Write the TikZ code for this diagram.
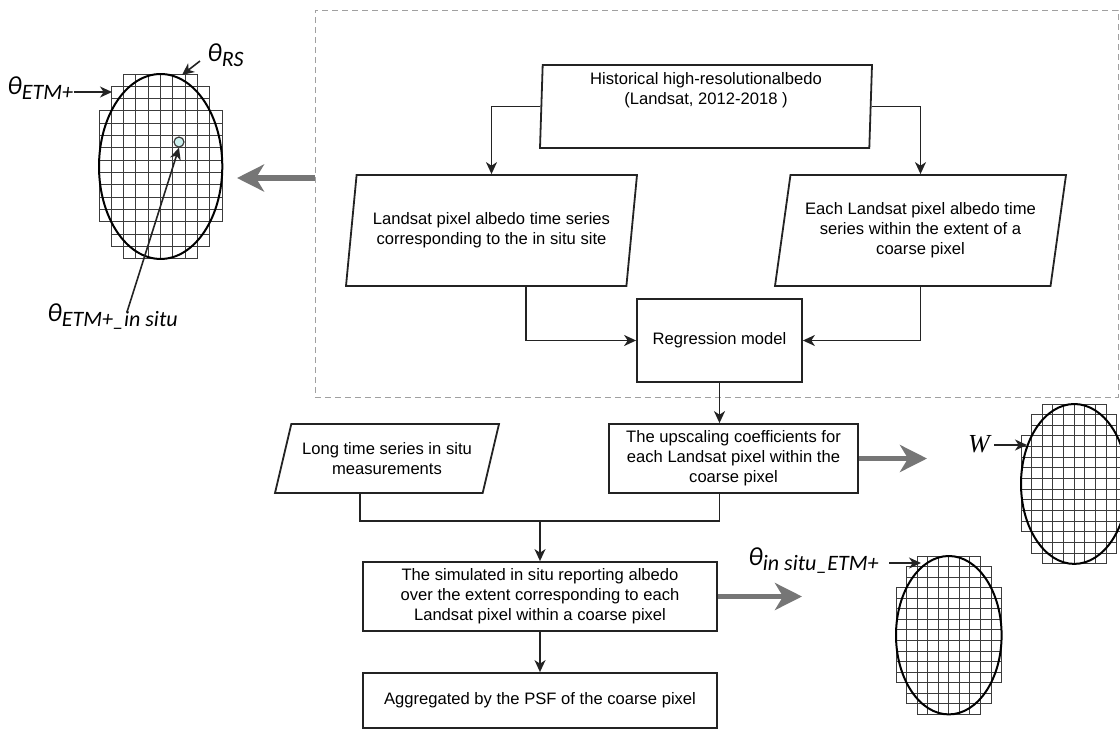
\documentclass[tikz,border=0pt]{standalone}
\usepackage{fontspec}
\setmainfont{Liberation Sans}
\newfontfamily\calfont{Carlito}
\newfontfamily\serfont{Liberation Serif}
\usetikzlibrary{shapes.geometric}
\usetikzlibrary{arrows.meta}
\usetikzlibrary{positioning}

\definecolor{framegray}{RGB}{160,160,160}
\definecolor{bigarrowgray}{RGB}{118,118,118}
\definecolor{gridgray}{RGB}{60,60,60}
\definecolor{linegray}{RGB}{35,35,35}
\definecolor{sitecyan}{RGB}{205,240,238}

\tikzset{
  boxtext/.style={font=\fontsize{8.3pt}{10pt}\selectfont, align=center},
  procbox/.style={draw=linegray, line width=0.9pt, rectangle, inner sep=2pt, boxtext},
  databox/.style={procbox, trapezium, trapezium stretches body},
  flow/.style={draw=linegray, line width=0.8pt, -{Stealth[length=6pt, width=5.5pt, inset=1.8pt]}},
  plainline/.style={draw=linegray, line width=0.8pt},
  bigarrow/.style={draw=bigarrowgray, line width=2.6pt, -{Stealth[length=13.5pt, width=13.5pt, inset=4pt]}},
  gridline/.style={draw=gridgray, line width=0.5pt},
  pixellipse/.style={draw=black, line width=1pt},
  thetalabel/.style={inner sep=0pt},
}

\newcommand{\thlab}[1]{{\calfont\itshape\fontsize{13pt}{15pt}\selectfont θ\raisebox{-2.5pt}{\fontsize{11pt}{12pt}\selectfont #1}}}

% one pixel grid under its ellipse: #1 x, #2 y (px), #3 cell size
\newcommand{\pixgrid}[3]{%
  \begin{scope}[shift={(#1,#2)}, x=#3, y=-#3]
    \foreach \r/\a/\b in {1/3/8, 2/2/9, 3/2/9, 4/1/10, 5/1/10, 6/1/10, 7/1/10, 8/1/10,
                          9/1/10, 10/1/10, 11/1/10, 12/1/10, 13/2/9, 14/2/9, 15/3/8}
      \foreach \c in {\a,...,\b}
        \draw[gridline] (\c-1,\r-1) rectangle (\c,\r);
    \draw[pixellipse] (5,7.5) ellipse [x radius=5, y radius=7.5];
  \end{scope}}

\begin{document}
\begin{tikzpicture}[x=0.5pt, y=-0.5pt]

  \useasboundingbox (0,0) rectangle (1120,729);
  \clip (0,0) rectangle (1120,729);

  % dashed frame round the regression part
  \node[draw=framegray, dashed, dash pattern=on 3pt off 2pt, line width=0.5pt,
        minimum width=401.5pt, minimum height=193.5pt, inner sep=0pt] (frame) at (716.5,203.5) {};

  % flowchart
  \node[databox, minimum width=166pt, minimum height=41.5pt,
        trapezium left angle=71.4, trapezium right angle=108.6,
        label={[boxtext, yshift=8pt]center:Historical high-resolutionalbedo\\(Landsat, 2012-2018 )}]
        (hist) at (706,106.5) {};

  \node[databox, minimum width=145.5pt, minimum height=55.5pt,
        trapezium left angle=76.3, trapezium right angle=103.7]
        (landsat) at (491.5,230.5) {Landsat pixel albedo time series\\corresponding to the in situ site};

  \node[databox, minimum width=145.5pt, minimum height=55.5pt,
        trapezium left angle=76.3, trapezium right angle=103.7]
        (eachpx) at (920.5,230.5) {Each Landsat pixel albedo time\\series within the extent of a\\coarse pixel};

  \node[procbox, minimum width=82.5pt, minimum height=41.5pt] (regr) at (719.5,340.5) {Regression model};

  \node[procbox, minimum width=124.5pt, minimum height=34.5pt] (coef) at (733.5,458.5)
        {The upscaling coefficients for\\each Landsat pixel within the\\coarse pixel};

  \node[databox, minimum width=112pt, minimum height=34.5pt,
        trapezium left angle=67.9, trapezium right angle=112.1]
        (longts) at (387,458.5) {Long time series in situ\\measurements};

  \node[procbox, minimum width=177pt, minimum height=34.5pt] (simu) at (540,596.5)
        {The simulated in situ reporting albedo\\over the extent corresponding to each\\Landsat pixel within a coarse pixel};

  \node[procbox, minimum width=177pt, minimum height=27.5pt] (aggr) at (540,700.5)
        {Aggregated by the PSF of the coarse pixel};

  % connectors
  \draw[flow] (hist.west) -| (landsat.center |- landsat.north);
  \draw[flow] (hist.east) -| (eachpx.center |- eachpx.north);
  \draw[flow] ([xshift=17.25pt]landsat.center |- landsat.south) |- (regr.west);
  \draw[flow] (eachpx.center |- eachpx.south) |- (regr.east);
  \draw[flow] (regr.south) -- (regr.south |- coef.north);

  \coordinate (merge) at (540,521);
  \draw[plainline] ([xshift=-13.5pt]longts.center |- longts.south) |- (merge) -| (regr.south |- coef.south);
  \draw[flow] (merge) -- (simu.north);
  \draw[flow] (simu.south) -- (aggr.north);

  % thick grey arrows to the pixel grids
  \coordinate (gridout) at (237,178);
  \draw[bigarrow] (frame.west |- gridout) -- (gridout);
  \coordinate (coefout) at (927,458.5);
  \draw[bigarrow] (coef.east) -- (coefout);
  \coordinate (simuout) at (802,596.5);
  \draw[bigarrow] (simu.east) -- (simuout);

  % pixel grids
  \pixgrid{99}{74}{6.165pt}
  \pixgrid{1021}{404}{5.33pt}
  \pixgrid{896}{556}{5.28pt}

  \node[draw=gridgray, fill=sitecyan, circle, line width=0.6pt, minimum size=5pt, inner sep=0pt] (site) at (179,142) {};

  % grid labels
  \node[thetalabel, anchor=base west] (rslab) at (207,61) {\thlab{RS}};
  \coordinate (rstip) at (182,75);
  \draw[flow] ([xshift=-3.5pt]rslab.base west) -- (rstip);

  \node[thetalabel, anchor=base west] (etmlab) at (7,94) {\thlab{ETM+}};
  \coordinate (etmtip) at (112,92);
  \draw[flow] (etmlab.east |- etmtip) -- (etmtip);

  \node[thetalabel, anchor=base west] (insitulab) at (47,321) {\thlab{ETM+\_in situ}};
  \draw[flow] ([xshift=40pt, yshift=4.5pt]insitulab.base west) -- (site.south);

  \node[thetalabel, font=\serfont\itshape\fontsize{13pt}{15pt}\selectfont] (wlab) at (979,444) {W};
  \coordinate (wtip) at (1027,445);
  \draw[flow] ([xshift=2pt]wlab.east |- wtip) -- (wtip);

  \node[thetalabel, anchor=base west] (sitelab) at (748,565) {\thlab{in situ\_ETM+}};
  \coordinate (sitetip) at (921,563);
  \draw[flow] ([xshift=5pt]sitelab.east |- sitetip) -- (sitetip);

\end{tikzpicture}
\end{document}
